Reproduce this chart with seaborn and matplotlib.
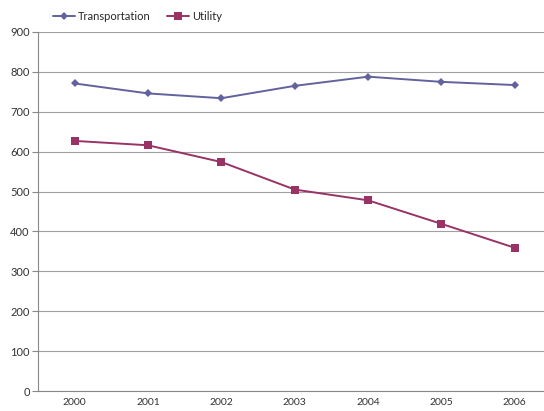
import matplotlib
matplotlib.use("Agg")
import matplotlib.pyplot as plt
import seaborn as sns
import pandas as pd
import numpy as np

years = ["2000", "2001", "2002", "2003", "2004", "2005", "2006"]
transportation = [771, 746, 734, 765, 788, 775, 767]
utility = [627, 616, 574, 505, 478, 419, 359]
y_ticks = [0, 100, 200, 300, 400, 500, 600, 700, 800, 900]

sns.set_theme(style="white")
plt.rcParams["font.family"] = ["Lato", "DejaVu Sans"]

df = pd.DataFrame({
    "pos": list(range(len(years))) * 2,
    "value": transportation + utility,
    "series": ["Transportation"] * len(years) + ["Utility"] * len(years),
})

fig = plt.figure(figsize=(5.44, 4.11), dpi=100)
ax = fig.add_axes([38 / 544, 1 - 391 / 411, 513.5 / 544, (391 - 32) / 411])

palette = {"Transportation": "#62629e", "Utility": "#993366"}
sns.lineplot(data=df, x="pos", y="value", hue="series", style="series",
             markers={"Transportation": "D", "Utility": "s"},
             dashes=False, palette=palette, linewidth=1.4,
             markersize=5.5, markeredgewidth=0, ax=ax)
# smaller diamonds
for line in ax.get_lines():
    if line.get_marker() == "D":
        line.set_markersize(4.5)

ax.set_xlim(-0.5, 6.5)
ax.set_ylim(0, 900)
ax.set_yticks(y_ticks)
ax.set_yticklabels([str(v) for v in y_ticks])
ax.set_xticks(range(len(years)))
ax.set_xticklabels(years)
ax.set_xticks(np.arange(-0.5, len(years), 1.0), minor=True)
ax.tick_params(axis="x", which="major", length=0, pad=5, labelsize=7.5, colors="#333333")
ax.tick_params(axis="x", which="minor", length=4, width=0.8, color="#888888", direction="out")
ax.tick_params(axis="y", which="major", length=4, width=0.8, color="#888888",
               direction="out", pad=2, labelsize=8, labelcolor="#333333", left=True)
ax.grid(axis="y", color="#a0a0a0", linewidth=0.8)
ax.set_axisbelow(True)
for s in ["top", "right"]:
    ax.spines[s].set_visible(False)
for s in ["left", "bottom"]:
    ax.spines[s].set_color("#888888")
    ax.spines[s].set_linewidth(0.8)
ax.set_xlabel("")
ax.set_ylabel("")

handles, labels = ax.get_legend_handles_labels()
ax.legend(handles, labels, loc="upper left", bbox_to_anchor=(0.02, 1.07),
          ncol=2, frameon=False, fontsize=8, handlelength=2.0,
          columnspacing=1.4, handletextpad=0.3, borderaxespad=0)

fig.savefig("out.png", dpi=100)
